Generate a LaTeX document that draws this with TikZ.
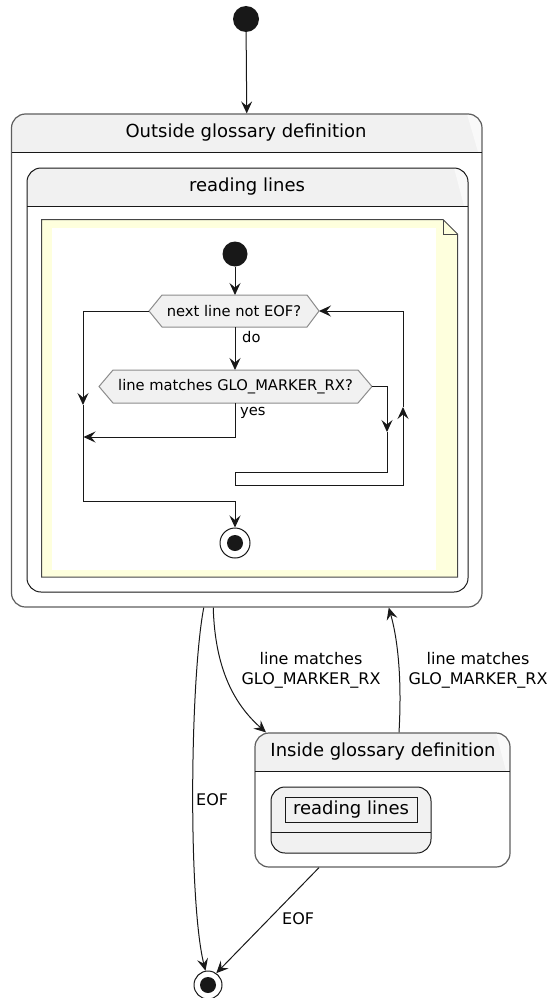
\documentclass[tikz,border=0pt]{standalone}
\usepackage{fontspec}
\setmainfont{DejaVu Sans}
\usetikzlibrary{arrows.meta}

\definecolor{ink}{HTML}{181818}
\definecolor{hdr}{HTML}{F1F1F1}
\definecolor{frame}{HTML}{5E5E5E}
\definecolor{notefill}{HTML}{FEFFDD}
\definecolor{hexline}{HTML}{8C8C8C}

\begin{document}
\begin{tikzpicture}[x=1pt,y=-1pt,
  tip/.style={-{Stealth[length=12pt,width=11pt,inset=4.5pt]}},
  edge/.style={draw=ink, line width=1pt, tip},
  initial/.style={circle, fill=ink, inner sep=0pt},
  finalstate/.style={circle, draw=ink, line width=1pt, inner sep=0pt,
    path picture={\fill[ink] (path picture bounding box.center) circle (#1);}},
  statebox/.style={rectangle, draw=frame, line width=1.2pt, rounded corners=14pt, inner sep=0pt},
  innerbox/.style={rectangle, draw=ink, line width=1pt, rounded corners=14pt, inner sep=0pt},
  title/.style={font=\fontsize{18}{22}\selectfont, text=black, inner sep=0pt},
  elabel/.style={font=\fontsize{16}{20}\selectfont, text=black, align=center, inner sep=0pt},
  hexbox/.style={draw=hexline, fill=hdr, line width=1pt},
  hextext/.style={font=\fontsize{14.7}{17}\selectfont, text=black, inner sep=0pt},
  noteline/.style={draw=ink!80, line width=1pt, line join=miter},
]
\useasboundingbox (0,0) rectangle (553,998);

% ---------- initial state ----------
\node[initial, minimum size=26pt] (start) at (246,19) {};

% ---------- composite state: Outside glossary definition ----------
\begin{scope}
  \clip[rounded corners=14pt] (11.5,114) rectangle (482,607);
  \fill[hdr] (11.5,114) rectangle (482,152);
  \fill[white!60!hdr] (467,114) -- (482,114) -- (482,152) -- (478,152) -- cycle;
\end{scope}
\node[statebox, minimum width=470.5pt, minimum height=493pt] (outer) at (246.75,360.5) {};
\draw[ink, line width=1pt] (11.5,152) -- (482,152);
\node[title] (outertitle) at (246,133) {Outside glossary definition};

% ---------- nested state: reading lines ----------
\begin{scope}
  \clip[rounded corners=14pt] (27,168) rectangle (468,592);
  \fill[hdr] (27,168) rectangle (468,206);
  \fill[white!60!hdr] (454,168) -- (468,168) -- (468,206) -- (464,206) -- cycle;
\end{scope}
\node[innerbox, minimum width=441pt, minimum height=424pt] (reading) at (247.5,380) {};
\draw[ink, line width=1pt] (27,206) -- (468,206);
\node[title] (readingtitle) at (247,187) {reading lines};

% ---------- note holding the activity flow ----------
\fill[notefill] (41.5,219.5) -- (443,219.5) -- (457.5,234) -- (457.5,577) -- (41.5,577) -- cycle;
\fill[white] (52,228) rectangle (436,570);
\draw[noteline] (41.5,219.5) -- (443,219.5) -- (457.5,234) -- (457.5,577) -- (41.5,577) -- cycle;
\draw[noteline] (443,219.5) -- (443,234) -- (457.5,234);

% activity: start
\node[initial, minimum size=25pt] (s2) at (235,254) {};

% decision: next line not EOF?
\draw[hexbox] (149,311) -- (162,295) -- (307,295) -- (319,311) -- (307,327) -- (162,327) -- cycle;
\node[hextext] (d1) at (234,311) {next line not EOF?};
\coordinate (d1n) at (235,295);
\coordinate (d1s) at (235,327);
\coordinate (d1w) at (149,311);
\coordinate (d1e) at (319,311);

% decision: line matches GLO_MARKER_RX?
\draw[hexbox] (99,386.5) -- (113,370) -- (358,370) -- (372,386.5) -- (358,403) -- (113,403) -- cycle;
\node[hextext] (d2) at (235.5,386.5) {line matches GLO\_MARKER\_RX?};
\coordinate (d2n) at (235,370);
\coordinate (d2s) at (235,403);
\coordinate (d2e) at (372,386.5);

% activity: stop
\node[finalstate=8pt, minimum size=30pt] (e2) at (235,543) {};

% routing points
\coordinate (lmid) at (83,405);
\coordinate (jb) at (235,501);
\coordinate (yesend) at (83.5,437);
\coordinate (rmid) at (387,432);
\coordinate (la) at (235,472);
\coordinate (lb) at (235,485);
\coordinate (umid) at (403,407);

\draw[edge] (s2) -- (d1n);
\draw[edge] (d1s) -- (d2n);
\node[hextext, anchor=west] (dolabel) at (242,337) {do};
\draw[edge] (d1w) -| (lmid);
\draw[edge] (lmid) |- (jb) -- (e2);
\draw[edge] (d2s) |- (yesend);
\node[hextext, anchor=west] (yeslabel) at (240,413) {yes};
\draw[edge] (d2e) -| (rmid);
\draw[edge] (rmid) |- (la) -- (lb) -| (umid);
\draw[edge] (umid) |- (d1e);

% ---------- composite state: Inside glossary definition ----------
\begin{scope}
  \clip[rounded corners=14pt] (255,733) rectangle (510,867);
  \fill[hdr] (255,733) rectangle (510,771);
  \fill[white!60!hdr] (496,733) -- (510,733) -- (510,771) -- (506,771) -- cycle;
\end{scope}
\node[statebox, minimum width=255pt, minimum height=134pt] (inside) at (382.5,800) {};
\draw[ink, line width=1pt] (255,771) -- (510,771);
\node[title] (insidetitle) at (383,752) {Inside glossary definition};

\node[innerbox, fill=hdr, minimum width=160pt, minimum height=66pt] (subref) at (351,820) {};
\draw[ink, line width=1pt] (271,832) -- (431,832);
\node[title, draw=ink, line width=0.8pt, minimum width=132pt, minimum height=25pt] (subname) at (351,809.5) {reading lines};

% ---------- final state ----------
\node[finalstate=8pt, minimum size=28pt] (final) at (208,985) {};

% ---------- transitions ----------
\draw[edge] (start) -- (outer.north);
\draw[edge] ([xshift=-43pt]outer.south) .. controls (190,680) and (188,900) .. (final.100);
\node[elabel, anchor=west] (eofa) at (196,800) {EOF};
\draw[edge] ([xshift=-33.5pt]outer.south) .. controls (215,670) and (235,705) .. ([xshift=-116.5pt]inside.north);
\node[elabel] (enter) at (311,670) {line matches\\GLO\_MARKER\_RX};
\draw[edge] ([xshift=16.5pt]inside.north) .. controls (402,680) and (398,640) .. ([xshift=142pt]outer.south);
\node[elabel] (leave) at (478,670) {line matches\\GLO\_MARKER\_RX};
\draw[edge] ([xshift=-63.5pt]inside.south) -- (final.55);
\node[elabel, anchor=west] (eofb) at (282,919) {EOF};

\end{tikzpicture}
\end{document}
